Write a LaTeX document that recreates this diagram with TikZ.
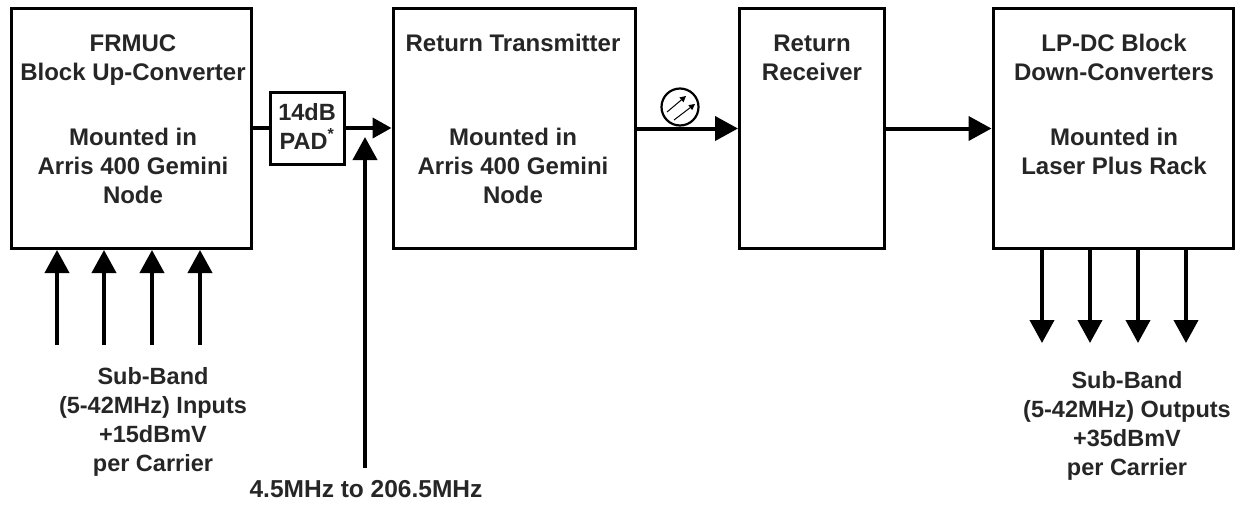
\documentclass[tikz,border=0pt]{standalone}
\usepackage{fontspec}
\setmainfont{Liberation Sans}
\usetikzlibrary{arrows.meta}
\begin{document}
\begin{tikzpicture}[x=1pt,y=-1pt,
  box/.style={draw=black,line width=3pt,inner sep=0pt,fill=white},
  lab/.style={font=\fontsize{23.5}{29}\selectfont\bfseries,align=center,inner sep=0pt,text=black!85,anchor=base},
  labw/.style={lab,font=\fontsize{24}{29}\selectfont\bfseries},
  arr/.style={line width=4pt,-{Triangle[length=23pt,width=24pt]}},
  sarr/.style={line width=4pt,-{Triangle[length=19pt,width=20pt]}},
  ln/.style={line width=4pt},
  thin arr/.style={line width=1pt,-{Triangle[length=6pt,width=6pt]}}]
\useasboundingbox (0,0) rectangle (1246,504);
\node[box,minimum width=240pt,minimum height=240pt] (a) at (131,128.5) {};
\node[box,minimum width=242pt,minimum height=240pt] (b) at (514,128.5) {};
\node[box,minimum width=145pt,minimum height=240pt] (c) at (812,128.5) {};
\node[box,minimum width=240pt,minimum height=240pt] (d) at (1113,128.5) {};
\node[box,minimum width=74pt,minimum height=72pt] (p) at (307,128) {};
\node[labw] (ta) at (133,203) {FRMUC\\Block Up-Converter\\[36pt]Mounted in\\Arris 400 Gemini\\Node};
\node[labw] (tb) at (513,203) {Return Transmitter\\[65pt]Mounted in\\Arris 400 Gemini\\Node};
\node[labw] (tc) at (812,80) {Return\\Receiver};
\node[labw] (td) at (1114,174) {LP-DC Block\\Down-Converters\\[36pt]Mounted in\\Laser Plus Rack};
\node[lab] (tp) at (307,149) {14dB\\PAD\textsuperscript{\fontsize{16}{16}\selectfont *}};
\node[lab] (tin) at (153,471) {Sub-Band\\(5-42MHz) Inputs\\+15dBmV\\per Carrier};
\node[lab] (tout) at (1127,475) {Sub-Band\\(5-42MHz) Outputs\\+35dBmV\\per Carrier};
\node[lab,font=\fontsize{24.5}{29}\selectfont\bfseries] (tf) at (366,497) {4.5MHz to 206.5MHz};
% connectors
\coordinate (i1) at (57,345); \coordinate (i2) at (104,345); \coordinate (i3) at (152,345); \coordinate (i4) at (200,345);
\coordinate (o1) at (1042,343); \coordinate (o2) at (1090,343); \coordinate (o3) at (1138,343); \coordinate (o4) at (1186,343);
\foreach \n in {i1,i2,i3,i4} \draw[arr] (\n) -- (\n |- a.south);
\foreach \n in {o1,o2,o3,o4} \draw[arr] (\n |- d.south) -- (\n);
\draw[ln] (a.east |- p.west) -- (p.west);
\draw[sarr] (p.east) -- (p.east -| b.west);
\coordinate (f) at (365,468); \coordinate (ft) at (365,137);
\draw[arr] (f) -- (ft);
\draw[arr] (b.east) -- (c.west);
\draw[arr] (c.east) -- (d.west);
% optical symbol
\node[circle,draw=black,line width=2.2pt,minimum size=37pt,inner sep=0pt,fill=white] (s) at (680,107) {};
\draw[thin arr] (667,112) -- (686,96);
\draw[thin arr] (674,120) -- (695,104);
\end{tikzpicture}
\end{document}
